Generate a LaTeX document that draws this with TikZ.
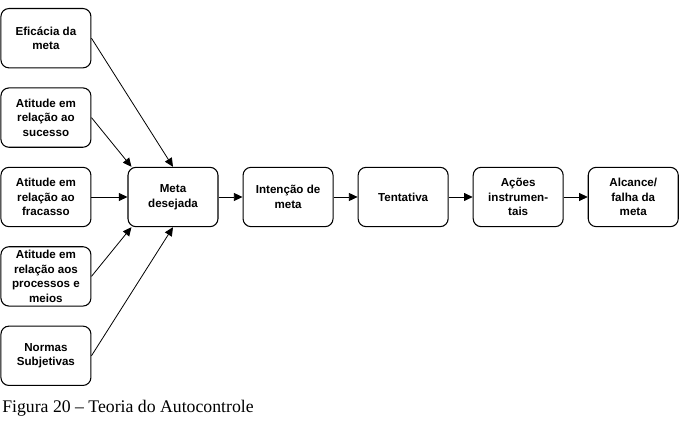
\documentclass[tikz,border=0pt]{standalone}
\usepackage{fontspec}
\setmainfont{Liberation Serif}
\newfontfamily\boxfont{Liberation Sans}
\usetikzlibrary{positioning,arrows.meta}
\tikzset{
  caixa/.style={draw,line width=0.8pt,rounded corners=6pt,
    minimum width=67.5pt,minimum height=44.5pt,inner sep=1pt,
    align=center,font=\boxfont\bfseries\fontsize{8.7}{10.9}\selectfont},
  seta/.style={line width=0.6pt,-{Triangle[length=6.5pt,width=6pt]}}
}
\begin{document}
\begin{tikzpicture}[x=0.75pt,y=-0.75pt]
  \useasboundingbox (0,0) rectangle (686,423);
  \node[caixa] (meta) at (173,197) {Meta\\desejada};
  \node[caixa,right=18pt of meta] (intencao) {Intenção de\\meta};
  \node[caixa,right=18pt of intencao] (tentativa) {Tentativa};
  \node[caixa,right=18pt of tentativa] (acoes) {Ações\\instrumen-\\tais};
  \node[caixa,right=18pt of acoes] (alcance) {Alcance/\\falha da\\meta};
  \node[caixa,left=27pt of meta] (fracasso) {Atitude em\\relação ao\\fracasso};
  \node[caixa,above=14.25pt of fracasso] (sucesso) {Atitude em\\relação ao\\sucesso};
  \node[caixa,above=14.25pt of sucesso] (eficacia) {Eficácia da\\meta};
  \node[caixa,below=14.25pt of fracasso] (processos) {Atitude em\\relação aos\\processos e\\meios};
  \node[caixa,below=14.25pt of processos] (normas) {Normas\\Subjetivas};
  \draw[seta] (eficacia.east) -- (meta.north);
  \draw[seta] (sucesso.east) -- ([xshift=3pt]meta.north west);
  \draw[seta] (fracasso) -- (meta);
  \draw[seta] (processos.east) -- ([xshift=3pt]meta.south west);
  \draw[seta] (normas.east) -- (meta.south);
  \draw[seta] (meta) -- (intencao);
  \draw[seta] (intencao) -- (tentativa);
  \draw[seta] (tentativa) -- (acoes);
  \draw[seta] (acoes) -- (alcance);
  \node[anchor=west,inner sep=0pt,font=\fontsize{13.3}{15}\selectfont] (legenda) at (2,408)
    {Figura 20 -- Teoria do Autocontrole};
\end{tikzpicture}
\end{document}
